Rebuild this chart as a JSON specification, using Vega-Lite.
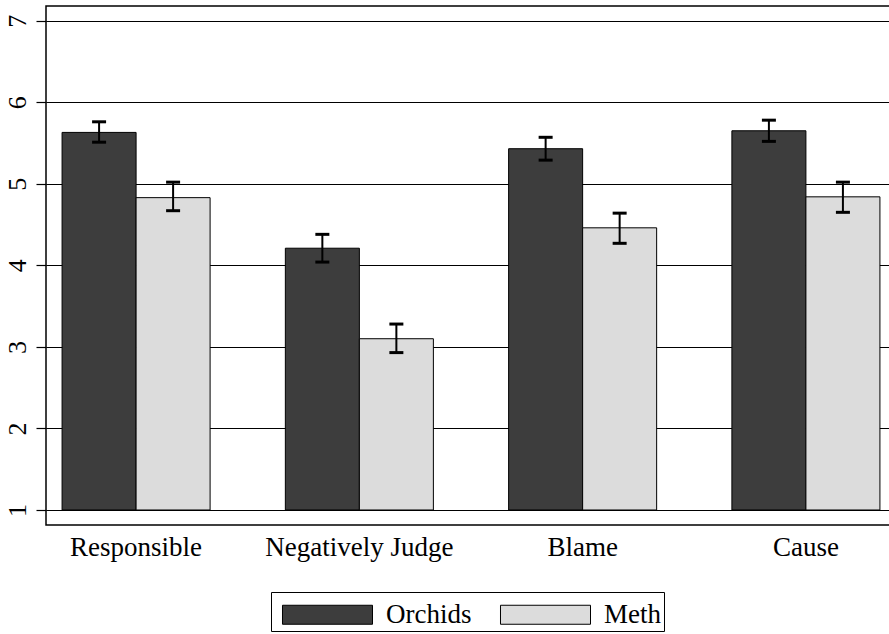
{
  "$schema": "https://vega.github.io/schema/vega-lite/v6.json",
  "width": 850,
  "height": 519,
  "autosize": {"type": "none"},
  "padding": {"left": 46, "top": 6, "right": 0, "bottom": 109},
  "background": "white",
  "config": {
    "view": {"stroke": "black", "strokeWidth": 1.5},
    "font": "Liberation Serif"
  },
  "data": {
    "values": [
      {"measure": "Responsible", "condition": "Orchids", "mean": 5.63, "lo": 5.51, "hi": 5.76},
      {"measure": "Responsible", "condition": "Meth", "mean": 4.83, "lo": 4.67, "hi": 5.02},
      {"measure": "Negatively Judge", "condition": "Orchids", "mean": 4.21, "lo": 4.04, "hi": 4.38},
      {"measure": "Negatively Judge", "condition": "Meth", "mean": 3.10, "lo": 2.93, "hi": 3.28},
      {"measure": "Blame", "condition": "Orchids", "mean": 5.43, "lo": 5.29, "hi": 5.57},
      {"measure": "Blame", "condition": "Meth", "mean": 4.46, "lo": 4.27, "hi": 4.64},
      {"measure": "Cause", "condition": "Orchids", "mean": 5.65, "lo": 5.52, "hi": 5.78},
      {"measure": "Cause", "condition": "Meth", "mean": 4.84, "lo": 4.65, "hi": 5.02}
    ]
  },
  "encoding": {
    "x": {
      "field": "measure",
      "type": "nominal",
      "sort": ["Responsible", "Negatively Judge", "Blame", "Cause"],
      "scale": {"paddingInner": 0.337, "paddingOuter": 0.072},
      "axis": {
        "title": null,
        "labelAngle": 0,
        "ticks": false,
        "domain": false,
        "labelFontSize": 27,
        "labelColor": "black",
        "labelPadding": 9,
        "labelLimit": 0,
        "labelFont": "Liberation Serif"
      }
    },
    "xOffset": {
      "field": "condition",
      "type": "nominal",
      "sort": ["Orchids", "Meth"],
      "scale": {"paddingInner": 0, "paddingOuter": 0}
    }
  },
  "layer": [
    {
      "mark": {"type": "bar", "stroke": "black", "strokeWidth": 1},
      "encoding": {
        "y": {
          "field": "mean",
          "type": "quantitative",
          "scale": {"domain": [0.816, 7.18], "nice": false, "zero": false},
          "axis": {
            "title": null,
            "values": [1, 2, 3, 4, 5, 6, 7],
            "format": "d",
            "grid": true,
            "gridColor": "black",
            "gridWidth": 1.2,
            "gridOpacity": 1,
            "domain": false,
            "tickColor": "black",
            "tickSize": 10,
            "tickWidth": 1.2,
            "labelAngle": -90,
            "labelFontSize": 26,
            "labelColor": "black",
            "labelPadding": 6,
            "labelFont": "Liberation Serif"
          }
        },
        "y2": {"datum": 1},
        "color": {
          "field": "condition",
          "type": "nominal",
          "scale": {"domain": ["Orchids", "Meth"], "range": ["#3d3d3d", "#dcdcdc"]},
          "legend": {
            "orient": "none",
            "legendX": 225,
            "legendY": 586,
            "direction": "horizontal",
            "title": null,
            "symbolType": "M-0.579,-0.5L4.158,-0.5L4.158,0.5L-0.579,0.5Z",
            "symbolSize": 1444,
            "symbolStrokeColor": "black",
            "symbolStrokeWidth": 1,
            "symbolOpacity": 1,
            "labelFontSize": 27,
            "labelColor": "black",
            "labelFont": "Liberation Serif",
            "labelOffset": 73,
            "columnPadding": 20,
            "padding": 3,
            "strokeColor": "black",
            "fillColor": "white"
          }
        }
      }
    },
    {
      "mark": {"type": "rule", "color": "black", "strokeWidth": 2},
      "encoding": {
        "y": {"field": "lo", "type": "quantitative"},
        "y2": {"field": "hi"}
      }
    },
    {
      "mark": {"type": "tick", "color": "black", "thickness": 3, "size": 14, "opacity": 1},
      "encoding": {"y": {"field": "hi", "type": "quantitative"}}
    },
    {
      "mark": {"type": "tick", "color": "black", "thickness": 3, "size": 14, "opacity": 1},
      "encoding": {"y": {"field": "lo", "type": "quantitative"}}
    }
  ]
}
